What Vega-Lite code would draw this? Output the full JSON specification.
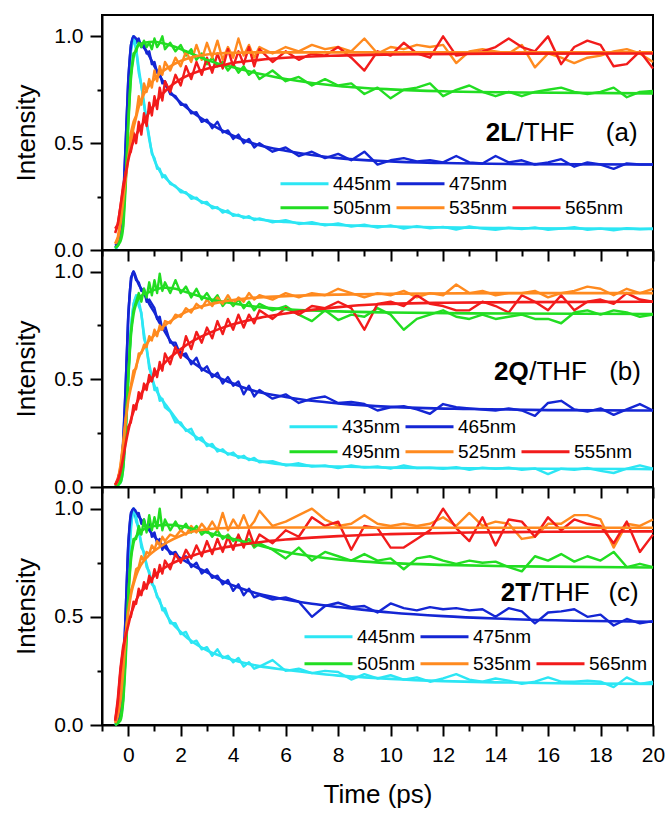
{
"$schema":"https://vega.github.io/schema/vega-lite/v6.json",
"padding":{"left":12,"top":14,"right":2,"bottom":5},
"spacing":0,
"bounds":"flush",
"datasets":{
"a":[
{"s":"445nm","t":-0.5,"v":0.01},{"s":"445nm","t":-0.4,"v":0.02},{"s":"445nm","t":-0.3,"v":0.06},{"s":"445nm","t":-0.2,"v":0.17},{"s":"445nm","t":-0.1,"v":0.42},{"s":"445nm","t":0,"v":0.72},{"s":"445nm","t":0.1,"v":0.93},{"s":"445nm","t":0.2,"v":0.99},{"s":"445nm","t":0.3,"v":0.94},{"s":"445nm","t":0.4,"v":0.83},{"s":"445nm","t":0.5,"v":0.77},{"s":"445nm","t":0.6,"v":0.68},{"s":"445nm","t":0.7,"v":0.6},{"s":"445nm","t":0.8,"v":0.53},{"s":"445nm","t":0.9,"v":0.45},{"s":"445nm","t":1,"v":0.43},{"s":"445nm","t":1.1,"v":0.38},{"s":"445nm","t":1.2,"v":0.38},{"s":"445nm","t":1.3,"v":0.34},{"s":"445nm","t":1.4,"v":0.35},{"s":"445nm","t":1.6,"v":0.31},{"s":"445nm","t":1.8,"v":0.3},{"s":"445nm","t":2,"v":0.27},{"s":"445nm","t":2.2,"v":0.27},{"s":"445nm","t":2.4,"v":0.24},{"s":"445nm","t":2.6,"v":0.245},{"s":"445nm","t":2.8,"v":0.22},{"s":"445nm","t":3,"v":0.225},{"s":"445nm","t":3.2,"v":0.195},{"s":"445nm","t":3.4,"v":0.2},{"s":"445nm","t":3.6,"v":0.175},{"s":"445nm","t":3.8,"v":0.185},{"s":"445nm","t":4,"v":0.16},{"s":"445nm","t":4.2,"v":0.165},{"s":"445nm","t":4.4,"v":0.15},{"s":"445nm","t":4.6,"v":0.158},{"s":"445nm","t":4.8,"v":0.14},{"s":"445nm","t":5,"v":0.148},{"s":"445nm","t":5.5,"v":0.13},{"s":"445nm","t":6,"v":0.14},{"s":"445nm","t":6.5,"v":0.122},{"s":"445nm","t":7,"v":0.13},{"s":"445nm","t":7.5,"v":0.115},{"s":"445nm","t":8,"v":0.124},{"s":"445nm","t":8.5,"v":0.11},{"s":"445nm","t":9,"v":0.118},{"s":"445nm","t":9.5,"v":0.105},{"s":"445nm","t":10,"v":0.115},{"s":"445nm","t":10.5,"v":0.1},{"s":"445nm","t":11,"v":0.112},{"s":"445nm","t":11.5,"v":0.102},{"s":"445nm","t":12,"v":0.108},{"s":"445nm","t":12.5,"v":0.096},{"s":"445nm","t":13,"v":0.11},{"s":"445nm","t":13.5,"v":0.1},{"s":"445nm","t":14,"v":0.095},{"s":"445nm","t":14.5,"v":0.104},{"s":"445nm","t":15,"v":0.098},{"s":"445nm","t":15.5,"v":0.106},{"s":"445nm","t":16,"v":0.094},{"s":"445nm","t":16.5,"v":0.1},{"s":"445nm","t":17,"v":0.107},{"s":"445nm","t":17.5,"v":0.095},{"s":"445nm","t":18,"v":0.1},{"s":"445nm","t":18.5,"v":0.092},{"s":"445nm","t":19,"v":0.102},{"s":"445nm","t":19.5,"v":0.097},{"s":"445nm","t":20,"v":0.1},
{"s":"475nm","t":-0.5,"v":0.02},{"s":"475nm","t":-0.4,"v":0.03},{"s":"475nm","t":-0.3,"v":0.08},{"s":"475nm","t":-0.2,"v":0.22},{"s":"475nm","t":-0.1,"v":0.5},{"s":"475nm","t":0,"v":0.8},{"s":"475nm","t":0.1,"v":0.96},{"s":"475nm","t":0.2,"v":1.0},{"s":"475nm","t":0.3,"v":0.97},{"s":"475nm","t":0.4,"v":0.99},{"s":"475nm","t":0.5,"v":0.95},{"s":"475nm","t":0.6,"v":0.96},{"s":"475nm","t":0.7,"v":0.92},{"s":"475nm","t":0.8,"v":0.93},{"s":"475nm","t":0.9,"v":0.87},{"s":"475nm","t":1,"v":0.88},{"s":"475nm","t":1.1,"v":0.83},{"s":"475nm","t":1.2,"v":0.83},{"s":"475nm","t":1.3,"v":0.78},{"s":"475nm","t":1.4,"v":0.79},{"s":"475nm","t":1.6,"v":0.73},{"s":"475nm","t":1.8,"v":0.72},{"s":"475nm","t":2,"v":0.68},{"s":"475nm","t":2.2,"v":0.68},{"s":"475nm","t":2.4,"v":0.64},{"s":"475nm","t":2.6,"v":0.645},{"s":"475nm","t":2.8,"v":0.6},{"s":"475nm","t":3,"v":0.61},{"s":"475nm","t":3.2,"v":0.57},{"s":"475nm","t":3.4,"v":0.6},{"s":"475nm","t":3.6,"v":0.55},{"s":"475nm","t":3.8,"v":0.56},{"s":"475nm","t":4,"v":0.52},{"s":"475nm","t":4.2,"v":0.54},{"s":"475nm","t":4.4,"v":0.5},{"s":"475nm","t":4.6,"v":0.52},{"s":"475nm","t":4.8,"v":0.48},{"s":"475nm","t":5,"v":0.5},{"s":"475nm","t":5.5,"v":0.46},{"s":"475nm","t":6,"v":0.48},{"s":"475nm","t":6.5,"v":0.44},{"s":"475nm","t":7,"v":0.46},{"s":"475nm","t":7.5,"v":0.43},{"s":"475nm","t":8,"v":0.45},{"s":"475nm","t":8.5,"v":0.42},{"s":"475nm","t":9,"v":0.46},{"s":"475nm","t":9.5,"v":0.4},{"s":"475nm","t":10,"v":0.42},{"s":"475nm","t":10.5,"v":0.43},{"s":"475nm","t":11,"v":0.415},{"s":"475nm","t":11.5,"v":0.42},{"s":"475nm","t":12,"v":0.41},{"s":"475nm","t":12.5,"v":0.44},{"s":"475nm","t":13,"v":0.41},{"s":"475nm","t":13.5,"v":0.405},{"s":"475nm","t":14,"v":0.44},{"s":"475nm","t":14.5,"v":0.41},{"s":"475nm","t":15,"v":0.42},{"s":"475nm","t":15.5,"v":0.4},{"s":"475nm","t":16,"v":0.41},{"s":"475nm","t":16.5,"v":0.425},{"s":"475nm","t":17,"v":0.39},{"s":"475nm","t":17.5,"v":0.41},{"s":"475nm","t":18,"v":0.4},{"s":"475nm","t":18.5,"v":0.38},{"s":"475nm","t":19,"v":0.405},{"s":"475nm","t":19.5,"v":0.4},{"s":"475nm","t":20,"v":0.4},
{"s":"505nm","t":-0.5,"v":0.01},{"s":"505nm","t":-0.4,"v":0.02},{"s":"505nm","t":-0.3,"v":0.05},{"s":"505nm","t":-0.2,"v":0.11},{"s":"505nm","t":-0.1,"v":0.32},{"s":"505nm","t":0,"v":0.6},{"s":"505nm","t":0.1,"v":0.82},{"s":"505nm","t":0.2,"v":0.92},{"s":"505nm","t":0.3,"v":0.93},{"s":"505nm","t":0.4,"v":0.97},{"s":"505nm","t":0.5,"v":0.95},{"s":"505nm","t":0.6,"v":0.98},{"s":"505nm","t":0.7,"v":0.95},{"s":"505nm","t":0.8,"v":0.97},{"s":"505nm","t":0.9,"v":0.94},{"s":"505nm","t":1,"v":0.99},{"s":"505nm","t":1.1,"v":0.95},{"s":"505nm","t":1.2,"v":0.97},{"s":"505nm","t":1.3,"v":1.0},{"s":"505nm","t":1.4,"v":0.94},{"s":"505nm","t":1.6,"v":0.97},{"s":"505nm","t":1.8,"v":0.93},{"s":"505nm","t":2,"v":0.96},{"s":"505nm","t":2.2,"v":0.91},{"s":"505nm","t":2.4,"v":0.94},{"s":"505nm","t":2.6,"v":0.89},{"s":"505nm","t":2.8,"v":0.92},{"s":"505nm","t":3,"v":0.87},{"s":"505nm","t":3.2,"v":0.9},{"s":"505nm","t":3.4,"v":0.86},{"s":"505nm","t":3.6,"v":0.88},{"s":"505nm","t":3.8,"v":0.84},{"s":"505nm","t":4,"v":0.87},{"s":"505nm","t":4.2,"v":0.83},{"s":"505nm","t":4.4,"v":0.86},{"s":"505nm","t":4.6,"v":0.82},{"s":"505nm","t":4.8,"v":0.84},{"s":"505nm","t":5,"v":0.8},{"s":"505nm","t":5.5,"v":0.84},{"s":"505nm","t":6,"v":0.79},{"s":"505nm","t":6.5,"v":0.81},{"s":"505nm","t":7,"v":0.77},{"s":"505nm","t":7.5,"v":0.8},{"s":"505nm","t":8,"v":0.77},{"s":"505nm","t":8.5,"v":0.78},{"s":"505nm","t":9,"v":0.73},{"s":"505nm","t":9.5,"v":0.76},{"s":"505nm","t":10,"v":0.71},{"s":"505nm","t":10.5,"v":0.75},{"s":"505nm","t":11,"v":0.76},{"s":"505nm","t":11.5,"v":0.78},{"s":"505nm","t":12,"v":0.72},{"s":"505nm","t":12.5,"v":0.75},{"s":"505nm","t":13,"v":0.77},{"s":"505nm","t":13.5,"v":0.74},{"s":"505nm","t":14,"v":0.72},{"s":"505nm","t":14.5,"v":0.74},{"s":"505nm","t":15,"v":0.72},{"s":"505nm","t":15.5,"v":0.74},{"s":"505nm","t":16,"v":0.75},{"s":"505nm","t":16.5,"v":0.76},{"s":"505nm","t":17,"v":0.74},{"s":"505nm","t":17.5,"v":0.73},{"s":"505nm","t":18,"v":0.74},{"s":"505nm","t":18.5,"v":0.76},{"s":"505nm","t":19,"v":0.715},{"s":"505nm","t":19.5,"v":0.74},{"s":"505nm","t":20,"v":0.745},
{"s":"535nm","t":-0.5,"v":0.03},{"s":"535nm","t":-0.4,"v":0.06},{"s":"535nm","t":-0.3,"v":0.13},{"s":"535nm","t":-0.2,"v":0.24},{"s":"535nm","t":-0.1,"v":0.35},{"s":"535nm","t":0,"v":0.45},{"s":"535nm","t":0.1,"v":0.55},{"s":"535nm","t":0.2,"v":0.6},{"s":"535nm","t":0.3,"v":0.63},{"s":"535nm","t":0.4,"v":0.72},{"s":"535nm","t":0.5,"v":0.68},{"s":"535nm","t":0.6,"v":0.78},{"s":"535nm","t":0.7,"v":0.74},{"s":"535nm","t":0.8,"v":0.8},{"s":"535nm","t":0.9,"v":0.76},{"s":"535nm","t":1,"v":0.84},{"s":"535nm","t":1.1,"v":0.79},{"s":"535nm","t":1.2,"v":0.86},{"s":"535nm","t":1.3,"v":0.82},{"s":"535nm","t":1.4,"v":0.88},{"s":"535nm","t":1.6,"v":0.84},{"s":"535nm","t":1.8,"v":0.9},{"s":"535nm","t":2,"v":0.86},{"s":"535nm","t":2.2,"v":0.93},{"s":"535nm","t":2.4,"v":0.88},{"s":"535nm","t":2.6,"v":0.96},{"s":"535nm","t":2.8,"v":0.89},{"s":"535nm","t":3,"v":0.97},{"s":"535nm","t":3.2,"v":0.9},{"s":"535nm","t":3.4,"v":0.98},{"s":"535nm","t":3.6,"v":0.89},{"s":"535nm","t":3.8,"v":0.95},{"s":"535nm","t":4,"v":0.9},{"s":"535nm","t":4.2,"v":0.99},{"s":"535nm","t":4.4,"v":0.91},{"s":"535nm","t":4.6,"v":0.96},{"s":"535nm","t":4.8,"v":0.9},{"s":"535nm","t":5,"v":0.95},{"s":"535nm","t":5.5,"v":0.92},{"s":"535nm","t":6,"v":0.95},{"s":"535nm","t":6.5,"v":0.93},{"s":"535nm","t":7,"v":0.96},{"s":"535nm","t":7.5,"v":0.94},{"s":"535nm","t":8,"v":0.95},{"s":"535nm","t":8.5,"v":0.93},{"s":"535nm","t":9,"v":0.99},{"s":"535nm","t":9.5,"v":0.92},{"s":"535nm","t":10,"v":0.95},{"s":"535nm","t":10.5,"v":0.94},{"s":"535nm","t":11,"v":0.96},{"s":"535nm","t":11.5,"v":0.95},{"s":"535nm","t":12,"v":0.96},{"s":"535nm","t":12.5,"v":0.875},{"s":"535nm","t":13,"v":0.93},{"s":"535nm","t":13.5,"v":0.94},{"s":"535nm","t":14,"v":0.93},{"s":"535nm","t":14.5,"v":0.92},{"s":"535nm","t":15,"v":0.96},{"s":"535nm","t":15.5,"v":0.855},{"s":"535nm","t":16,"v":0.92},{"s":"535nm","t":16.5,"v":0.9},{"s":"535nm","t":17,"v":0.875},{"s":"535nm","t":17.5,"v":0.9},{"s":"535nm","t":18,"v":0.91},{"s":"535nm","t":18.5,"v":0.93},{"s":"535nm","t":19,"v":0.94},{"s":"535nm","t":19.5,"v":0.92},{"s":"535nm","t":20,"v":0.88},
{"s":"565nm","t":-0.5,"v":0.1},{"s":"565nm","t":-0.4,"v":0.12},{"s":"565nm","t":-0.3,"v":0.2},{"s":"565nm","t":-0.2,"v":0.3},{"s":"565nm","t":-0.1,"v":0.36},{"s":"565nm","t":0,"v":0.44},{"s":"565nm","t":0.1,"v":0.46},{"s":"565nm","t":0.2,"v":0.55},{"s":"565nm","t":0.3,"v":0.5},{"s":"565nm","t":0.4,"v":0.6},{"s":"565nm","t":0.5,"v":0.54},{"s":"565nm","t":0.6,"v":0.64},{"s":"565nm","t":0.7,"v":0.58},{"s":"565nm","t":0.8,"v":0.69},{"s":"565nm","t":0.9,"v":0.63},{"s":"565nm","t":1,"v":0.72},{"s":"565nm","t":1.1,"v":0.66},{"s":"565nm","t":1.2,"v":0.76},{"s":"565nm","t":1.3,"v":0.7},{"s":"565nm","t":1.4,"v":0.79},{"s":"565nm","t":1.6,"v":0.74},{"s":"565nm","t":1.8,"v":0.82},{"s":"565nm","t":2,"v":0.77},{"s":"565nm","t":2.2,"v":0.86},{"s":"565nm","t":2.4,"v":0.8},{"s":"565nm","t":2.6,"v":0.88},{"s":"565nm","t":2.8,"v":0.82},{"s":"565nm","t":3,"v":0.9},{"s":"565nm","t":3.2,"v":0.83},{"s":"565nm","t":3.4,"v":0.92},{"s":"565nm","t":3.6,"v":0.85},{"s":"565nm","t":3.8,"v":0.94},{"s":"565nm","t":4,"v":0.86},{"s":"565nm","t":4.2,"v":0.93},{"s":"565nm","t":4.4,"v":0.87},{"s":"565nm","t":4.6,"v":0.95},{"s":"565nm","t":4.8,"v":0.86},{"s":"565nm","t":5,"v":0.94},{"s":"565nm","t":5.5,"v":0.88},{"s":"565nm","t":6,"v":0.93},{"s":"565nm","t":6.5,"v":0.89},{"s":"565nm","t":7,"v":0.92},{"s":"565nm","t":7.5,"v":0.91},{"s":"565nm","t":8,"v":0.95},{"s":"565nm","t":8.5,"v":0.9},{"s":"565nm","t":9,"v":0.84},{"s":"565nm","t":9.5,"v":0.93},{"s":"565nm","t":10,"v":0.91},{"s":"565nm","t":10.5,"v":0.97},{"s":"565nm","t":11,"v":0.92},{"s":"565nm","t":11.5,"v":0.9},{"s":"565nm","t":12,"v":1.0},{"s":"565nm","t":12.5,"v":0.91},{"s":"565nm","t":13,"v":0.92},{"s":"565nm","t":13.5,"v":0.93},{"s":"565nm","t":14,"v":0.95},{"s":"565nm","t":14.5,"v":0.99},{"s":"565nm","t":15,"v":0.95},{"s":"565nm","t":15.5,"v":0.93},{"s":"565nm","t":16,"v":1.0},{"s":"565nm","t":16.5,"v":0.87},{"s":"565nm","t":17,"v":0.95},{"s":"565nm","t":17.5,"v":0.98},{"s":"565nm","t":18,"v":0.96},{"s":"565nm","t":18.5,"v":0.86},{"s":"565nm","t":19,"v":0.87},{"s":"565nm","t":19.5,"v":0.93},{"s":"565nm","t":20,"v":0.85}
],
"af":[
{"s":"445nm","t":-0.5,"v":0},{"s":"445nm","t":-0.4,"v":0.02},{"s":"445nm","t":-0.3,"v":0.06},{"s":"445nm","t":-0.2,"v":0.16},{"s":"445nm","t":-0.1,"v":0.41},{"s":"445nm","t":0,"v":0.71},{"s":"445nm","t":0.1,"v":0.93},{"s":"445nm","t":0.2,"v":1.0},{"s":"445nm","t":0.3,"v":0.94},{"s":"445nm","t":0.4,"v":0.85},{"s":"445nm","t":0.5,"v":0.77},{"s":"445nm","t":0.6,"v":0.69},{"s":"445nm","t":0.7,"v":0.6},{"s":"445nm","t":0.8,"v":0.52},{"s":"445nm","t":0.9,"v":0.46},{"s":"445nm","t":1,"v":0.42},{"s":"445nm","t":1.2,"v":0.37},{"s":"445nm","t":1.4,"v":0.34},{"s":"445nm","t":1.7,"v":0.305},{"s":"445nm","t":2,"v":0.28},{"s":"445nm","t":2.5,"v":0.245},{"s":"445nm","t":3,"v":0.215},{"s":"445nm","t":3.5,"v":0.19},{"s":"445nm","t":4,"v":0.167},{"s":"445nm","t":5,"v":0.143},{"s":"445nm","t":6,"v":0.131},{"s":"445nm","t":7,"v":0.123},{"s":"445nm","t":8,"v":0.117},{"s":"445nm","t":10,"v":0.11},{"s":"445nm","t":12,"v":0.106},{"s":"445nm","t":15,"v":0.102},{"s":"445nm","t":20,"v":0.099},
{"s":"475nm","t":-0.5,"v":0.01},{"s":"475nm","t":-0.3,"v":0.06},{"s":"475nm","t":-0.2,"v":0.2},{"s":"475nm","t":-0.1,"v":0.48},{"s":"475nm","t":0,"v":0.78},{"s":"475nm","t":0.1,"v":0.95},{"s":"475nm","t":0.2,"v":1.0},{"s":"475nm","t":0.3,"v":0.99},{"s":"475nm","t":0.5,"v":0.96},{"s":"475nm","t":0.7,"v":0.93},{"s":"475nm","t":1,"v":0.86},{"s":"475nm","t":1.2,"v":0.815},{"s":"475nm","t":1.6,"v":0.74},{"s":"475nm","t":2,"v":0.69},{"s":"475nm","t":2.5,"v":0.64},{"s":"475nm","t":3,"v":0.6},{"s":"475nm","t":3.5,"v":0.565},{"s":"475nm","t":4,"v":0.535},{"s":"475nm","t":5,"v":0.49},{"s":"475nm","t":6,"v":0.465},{"s":"475nm","t":7,"v":0.445},{"s":"475nm","t":8,"v":0.43},{"s":"475nm","t":10,"v":0.415},{"s":"475nm","t":12,"v":0.407},{"s":"475nm","t":15,"v":0.402},{"s":"475nm","t":20,"v":0.4},
{"s":"505nm","t":-0.5,"v":0.01},{"s":"505nm","t":-0.3,"v":0.04},{"s":"505nm","t":-0.2,"v":0.1},{"s":"505nm","t":-0.1,"v":0.3},{"s":"505nm","t":0,"v":0.58},{"s":"505nm","t":0.1,"v":0.8},{"s":"505nm","t":0.2,"v":0.9},{"s":"505nm","t":0.3,"v":0.94},{"s":"505nm","t":0.4,"v":0.96},{"s":"505nm","t":0.6,"v":0.97},{"s":"505nm","t":1,"v":0.975},{"s":"505nm","t":1.4,"v":0.965},{"s":"505nm","t":1.8,"v":0.95},{"s":"505nm","t":2.2,"v":0.93},{"s":"505nm","t":2.6,"v":0.91},{"s":"505nm","t":3,"v":0.89},{"s":"505nm","t":3.5,"v":0.87},{"s":"505nm","t":4,"v":0.855},{"s":"505nm","t":5,"v":0.825},{"s":"505nm","t":6,"v":0.8},{"s":"505nm","t":7,"v":0.782},{"s":"505nm","t":8,"v":0.768},{"s":"505nm","t":10,"v":0.752},{"s":"505nm","t":12,"v":0.743},{"s":"505nm","t":15,"v":0.737},{"s":"505nm","t":20,"v":0.733},
{"s":"535nm","t":-0.5,"v":0.03},{"s":"535nm","t":-0.4,"v":0.05},{"s":"535nm","t":-0.3,"v":0.12},{"s":"535nm","t":-0.2,"v":0.22},{"s":"535nm","t":-0.1,"v":0.33},{"s":"535nm","t":0,"v":0.43},{"s":"535nm","t":0.1,"v":0.51},{"s":"535nm","t":0.2,"v":0.57},{"s":"535nm","t":0.3,"v":0.62},{"s":"535nm","t":0.4,"v":0.67},{"s":"535nm","t":0.5,"v":0.7},{"s":"535nm","t":0.6,"v":0.73},{"s":"535nm","t":0.8,"v":0.77},{"s":"535nm","t":1,"v":0.8},{"s":"535nm","t":1.3,"v":0.835},{"s":"535nm","t":1.6,"v":0.86},{"s":"535nm","t":2,"v":0.885},{"s":"535nm","t":2.5,"v":0.905},{"s":"535nm","t":3,"v":0.915},{"s":"535nm","t":4,"v":0.923},{"s":"535nm","t":5,"v":0.925},{"s":"535nm","t":10,"v":0.925},{"s":"535nm","t":20,"v":0.925},
{"s":"565nm","t":-0.5,"v":0.08},{"s":"565nm","t":-0.4,"v":0.12},{"s":"565nm","t":-0.3,"v":0.2},{"s":"565nm","t":-0.2,"v":0.28},{"s":"565nm","t":-0.1,"v":0.35},{"s":"565nm","t":0,"v":0.42},{"s":"565nm","t":0.1,"v":0.47},{"s":"565nm","t":0.2,"v":0.51},{"s":"565nm","t":0.4,"v":0.56},{"s":"565nm","t":0.6,"v":0.6},{"s":"565nm","t":0.8,"v":0.645},{"s":"565nm","t":1,"v":0.68},{"s":"565nm","t":1.2,"v":0.715},{"s":"565nm","t":1.5,"v":0.755},{"s":"565nm","t":2,"v":0.8},{"s":"565nm","t":2.5,"v":0.828},{"s":"565nm","t":3,"v":0.848},{"s":"565nm","t":3.5,"v":0.862},{"s":"565nm","t":4,"v":0.875},{"s":"565nm","t":5,"v":0.89},{"s":"565nm","t":6,"v":0.9},{"s":"565nm","t":8,"v":0.91},{"s":"565nm","t":10,"v":0.915},{"s":"565nm","t":14,"v":0.919},{"s":"565nm","t":20,"v":0.92}
],
"b":[
{"s":"435nm","t":-0.5,"v":0},{"s":"435nm","t":-0.4,"v":0.01},{"s":"435nm","t":-0.3,"v":0.02},{"s":"435nm","t":-0.2,"v":0.09},{"s":"435nm","t":-0.1,"v":0.27},{"s":"435nm","t":0,"v":0.52},{"s":"435nm","t":0.1,"v":0.74},{"s":"435nm","t":0.2,"v":0.85},{"s":"435nm","t":0.3,"v":0.89},{"s":"435nm","t":0.4,"v":0.84},{"s":"435nm","t":0.5,"v":0.81},{"s":"435nm","t":0.6,"v":0.69},{"s":"435nm","t":0.7,"v":0.65},{"s":"435nm","t":0.8,"v":0.55},{"s":"435nm","t":0.9,"v":0.52},{"s":"435nm","t":1,"v":0.45},{"s":"435nm","t":1.1,"v":0.46},{"s":"435nm","t":1.2,"v":0.4},{"s":"435nm","t":1.3,"v":0.41},{"s":"435nm","t":1.4,"v":0.37},{"s":"435nm","t":1.6,"v":0.35},{"s":"435nm","t":1.8,"v":0.3},{"s":"435nm","t":2,"v":0.3},{"s":"435nm","t":2.2,"v":0.26},{"s":"435nm","t":2.4,"v":0.27},{"s":"435nm","t":2.6,"v":0.22},{"s":"435nm","t":2.8,"v":0.23},{"s":"435nm","t":3,"v":0.19},{"s":"435nm","t":3.2,"v":0.2},{"s":"435nm","t":3.4,"v":0.165},{"s":"435nm","t":3.6,"v":0.175},{"s":"435nm","t":3.8,"v":0.15},{"s":"435nm","t":4,"v":0.16},{"s":"435nm","t":4.2,"v":0.135},{"s":"435nm","t":4.4,"v":0.145},{"s":"435nm","t":4.6,"v":0.125},{"s":"435nm","t":4.8,"v":0.135},{"s":"435nm","t":5,"v":0.115},{"s":"435nm","t":5.5,"v":0.12},{"s":"435nm","t":6,"v":0.1},{"s":"435nm","t":6.5,"v":0.11},{"s":"435nm","t":7,"v":0.095},{"s":"435nm","t":7.5,"v":0.1},{"s":"435nm","t":8,"v":0.088},{"s":"435nm","t":8.5,"v":0.1},{"s":"435nm","t":9,"v":0.09},{"s":"435nm","t":9.5,"v":0.095},{"s":"435nm","t":10,"v":0.085},{"s":"435nm","t":10.5,"v":0.1},{"s":"435nm","t":11,"v":0.088},{"s":"435nm","t":11.5,"v":0.09},{"s":"435nm","t":12,"v":0.085},{"s":"435nm","t":12.5,"v":0.092},{"s":"435nm","t":13,"v":0.08},{"s":"435nm","t":13.5,"v":0.09},{"s":"435nm","t":14,"v":0.085},{"s":"435nm","t":14.5,"v":0.09},{"s":"435nm","t":15,"v":0.08},{"s":"435nm","t":15.5,"v":0.086},{"s":"435nm","t":16,"v":0.06},{"s":"435nm","t":16.5,"v":0.085},{"s":"435nm","t":17,"v":0.08},{"s":"435nm","t":17.5,"v":0.088},{"s":"435nm","t":18,"v":0.075},{"s":"435nm","t":18.5,"v":0.065},{"s":"435nm","t":19,"v":0.085},{"s":"435nm","t":19.5,"v":0.1},{"s":"435nm","t":20,"v":0.085},
{"s":"465nm","t":-0.5,"v":0},{"s":"465nm","t":-0.4,"v":0.01},{"s":"465nm","t":-0.3,"v":0.06},{"s":"465nm","t":-0.2,"v":0.2},{"s":"465nm","t":-0.1,"v":0.47},{"s":"465nm","t":0,"v":0.8},{"s":"465nm","t":0.1,"v":0.97},{"s":"465nm","t":0.2,"v":1.0},{"s":"465nm","t":0.3,"v":0.96},{"s":"465nm","t":0.4,"v":0.95},{"s":"465nm","t":0.5,"v":0.91},{"s":"465nm","t":0.6,"v":0.92},{"s":"465nm","t":0.7,"v":0.86},{"s":"465nm","t":0.8,"v":0.87},{"s":"465nm","t":0.9,"v":0.85},{"s":"465nm","t":1,"v":0.83},{"s":"465nm","t":1.1,"v":0.78},{"s":"465nm","t":1.2,"v":0.79},{"s":"465nm","t":1.3,"v":0.73},{"s":"465nm","t":1.4,"v":0.75},{"s":"465nm","t":1.6,"v":0.67},{"s":"465nm","t":1.8,"v":0.67},{"s":"465nm","t":2,"v":0.61},{"s":"465nm","t":2.2,"v":0.62},{"s":"465nm","t":2.4,"v":0.57},{"s":"465nm","t":2.6,"v":0.6},{"s":"465nm","t":2.8,"v":0.54},{"s":"465nm","t":3,"v":0.56},{"s":"465nm","t":3.2,"v":0.51},{"s":"465nm","t":3.4,"v":0.53},{"s":"465nm","t":3.6,"v":0.48},{"s":"465nm","t":3.8,"v":0.51},{"s":"465nm","t":4,"v":0.47},{"s":"465nm","t":4.2,"v":0.49},{"s":"465nm","t":4.4,"v":0.43},{"s":"465nm","t":4.6,"v":0.47},{"s":"465nm","t":4.8,"v":0.42},{"s":"465nm","t":5,"v":0.45},{"s":"465nm","t":5.5,"v":0.41},{"s":"465nm","t":6,"v":0.43},{"s":"465nm","t":6.5,"v":0.39},{"s":"465nm","t":7,"v":0.41},{"s":"465nm","t":7.5,"v":0.42},{"s":"465nm","t":8,"v":0.39},{"s":"465nm","t":8.5,"v":0.395},{"s":"465nm","t":9,"v":0.385},{"s":"465nm","t":9.5,"v":0.355},{"s":"465nm","t":10,"v":0.37},{"s":"465nm","t":10.5,"v":0.375},{"s":"465nm","t":11,"v":0.36},{"s":"465nm","t":11.5,"v":0.34},{"s":"465nm","t":12,"v":0.385},{"s":"465nm","t":12.5,"v":0.37},{"s":"465nm","t":13,"v":0.365},{"s":"465nm","t":13.5,"v":0.36},{"s":"465nm","t":14,"v":0.355},{"s":"465nm","t":14.5,"v":0.365},{"s":"465nm","t":15,"v":0.355},{"s":"465nm","t":15.5,"v":0.33},{"s":"465nm","t":16,"v":0.39},{"s":"465nm","t":16.5,"v":0.4},{"s":"465nm","t":17,"v":0.36},{"s":"465nm","t":17.5,"v":0.35},{"s":"465nm","t":18,"v":0.365},{"s":"465nm","t":18.5,"v":0.335},{"s":"465nm","t":19,"v":0.36},{"s":"465nm","t":19.5,"v":0.385},{"s":"465nm","t":20,"v":0.355},
{"s":"495nm","t":-0.5,"v":0},{"s":"495nm","t":-0.4,"v":0.01},{"s":"495nm","t":-0.3,"v":0.03},{"s":"495nm","t":-0.2,"v":0.09},{"s":"495nm","t":-0.1,"v":0.27},{"s":"495nm","t":0,"v":0.52},{"s":"495nm","t":0.1,"v":0.72},{"s":"495nm","t":0.2,"v":0.82},{"s":"495nm","t":0.3,"v":0.86},{"s":"495nm","t":0.4,"v":0.9},{"s":"495nm","t":0.5,"v":0.86},{"s":"495nm","t":0.6,"v":0.92},{"s":"495nm","t":0.7,"v":0.88},{"s":"495nm","t":0.8,"v":0.95},{"s":"495nm","t":0.9,"v":0.89},{"s":"495nm","t":1,"v":0.96},{"s":"495nm","t":1.1,"v":0.9},{"s":"495nm","t":1.2,"v":0.99},{"s":"495nm","t":1.3,"v":0.91},{"s":"495nm","t":1.4,"v":0.95},{"s":"495nm","t":1.6,"v":0.9},{"s":"495nm","t":1.8,"v":0.96},{"s":"495nm","t":2,"v":0.9},{"s":"495nm","t":2.2,"v":0.93},{"s":"495nm","t":2.4,"v":0.88},{"s":"495nm","t":2.6,"v":0.92},{"s":"495nm","t":2.8,"v":0.87},{"s":"495nm","t":3,"v":0.9},{"s":"495nm","t":3.2,"v":0.86},{"s":"495nm","t":3.4,"v":0.89},{"s":"495nm","t":3.6,"v":0.84},{"s":"495nm","t":3.8,"v":0.87},{"s":"495nm","t":4,"v":0.84},{"s":"495nm","t":4.2,"v":0.87},{"s":"495nm","t":4.4,"v":0.83},{"s":"495nm","t":4.6,"v":0.86},{"s":"495nm","t":4.8,"v":0.82},{"s":"495nm","t":5,"v":0.85},{"s":"495nm","t":5.5,"v":0.82},{"s":"495nm","t":6,"v":0.84},{"s":"495nm","t":6.5,"v":0.8},{"s":"495nm","t":7,"v":0.77},{"s":"495nm","t":7.5,"v":0.82},{"s":"495nm","t":8,"v":0.775},{"s":"495nm","t":8.5,"v":0.8},{"s":"495nm","t":9,"v":0.79},{"s":"495nm","t":9.5,"v":0.83},{"s":"495nm","t":10,"v":0.8},{"s":"495nm","t":10.5,"v":0.73},{"s":"495nm","t":11,"v":0.78},{"s":"495nm","t":11.5,"v":0.8},{"s":"495nm","t":12,"v":0.82},{"s":"495nm","t":12.5,"v":0.79},{"s":"495nm","t":13,"v":0.78},{"s":"495nm","t":13.5,"v":0.8},{"s":"495nm","t":14,"v":0.78},{"s":"495nm","t":14.5,"v":0.79},{"s":"495nm","t":15,"v":0.8},{"s":"495nm","t":15.5,"v":0.78},{"s":"495nm","t":16,"v":0.78},{"s":"495nm","t":16.5,"v":0.76},{"s":"495nm","t":17,"v":0.81},{"s":"495nm","t":17.5,"v":0.82},{"s":"495nm","t":18,"v":0.8},{"s":"495nm","t":18.5,"v":0.82},{"s":"495nm","t":19,"v":0.81},{"s":"495nm","t":19.5,"v":0.79},{"s":"495nm","t":20,"v":0.8},
{"s":"525nm","t":-0.5,"v":0.01},{"s":"525nm","t":-0.4,"v":0.03},{"s":"525nm","t":-0.3,"v":0.1},{"s":"525nm","t":-0.2,"v":0.2},{"s":"525nm","t":-0.1,"v":0.32},{"s":"525nm","t":0,"v":0.42},{"s":"525nm","t":0.1,"v":0.47},{"s":"525nm","t":0.2,"v":0.54},{"s":"525nm","t":0.3,"v":0.55},{"s":"525nm","t":0.4,"v":0.62},{"s":"525nm","t":0.5,"v":0.62},{"s":"525nm","t":0.6,"v":0.66},{"s":"525nm","t":0.7,"v":0.65},{"s":"525nm","t":0.8,"v":0.7},{"s":"525nm","t":0.9,"v":0.68},{"s":"525nm","t":1,"v":0.73},{"s":"525nm","t":1.1,"v":0.7},{"s":"525nm","t":1.2,"v":0.75},{"s":"525nm","t":1.3,"v":0.73},{"s":"525nm","t":1.4,"v":0.77},{"s":"525nm","t":1.6,"v":0.76},{"s":"525nm","t":1.8,"v":0.8},{"s":"525nm","t":2,"v":0.79},{"s":"525nm","t":2.2,"v":0.83},{"s":"525nm","t":2.4,"v":0.81},{"s":"525nm","t":2.6,"v":0.85},{"s":"525nm","t":2.8,"v":0.83},{"s":"525nm","t":3,"v":0.87},{"s":"525nm","t":3.2,"v":0.84},{"s":"525nm","t":3.4,"v":0.88},{"s":"525nm","t":3.6,"v":0.85},{"s":"525nm","t":3.8,"v":0.89},{"s":"525nm","t":4,"v":0.85},{"s":"525nm","t":4.2,"v":0.88},{"s":"525nm","t":4.4,"v":0.86},{"s":"525nm","t":4.6,"v":0.9},{"s":"525nm","t":4.8,"v":0.87},{"s":"525nm","t":5,"v":0.89},{"s":"525nm","t":5.5,"v":0.87},{"s":"525nm","t":6,"v":0.9},{"s":"525nm","t":6.5,"v":0.88},{"s":"525nm","t":7,"v":0.9},{"s":"525nm","t":7.5,"v":0.89},{"s":"525nm","t":8,"v":0.92},{"s":"525nm","t":8.5,"v":0.9},{"s":"525nm","t":9,"v":0.88},{"s":"525nm","t":9.5,"v":0.9},{"s":"525nm","t":10,"v":0.89},{"s":"525nm","t":10.5,"v":0.91},{"s":"525nm","t":11,"v":0.88},{"s":"525nm","t":11.5,"v":0.9},{"s":"525nm","t":12,"v":0.89},{"s":"525nm","t":12.5,"v":0.94},{"s":"525nm","t":13,"v":0.9},{"s":"525nm","t":13.5,"v":0.91},{"s":"525nm","t":14,"v":0.89},{"s":"525nm","t":14.5,"v":0.9},{"s":"525nm","t":15,"v":0.9},{"s":"525nm","t":15.5,"v":0.91},{"s":"525nm","t":16,"v":0.88},{"s":"525nm","t":16.5,"v":0.9},{"s":"525nm","t":17,"v":0.91},{"s":"525nm","t":17.5,"v":0.93},{"s":"525nm","t":18,"v":0.92},{"s":"525nm","t":18.5,"v":0.89},{"s":"525nm","t":19,"v":0.92},{"s":"525nm","t":19.5,"v":0.9},{"s":"525nm","t":20,"v":0.92},
{"s":"555nm","t":-0.5,"v":0.01},{"s":"555nm","t":-0.4,"v":0.04},{"s":"555nm","t":-0.3,"v":0.08},{"s":"555nm","t":-0.2,"v":0.14},{"s":"555nm","t":-0.1,"v":0.22},{"s":"555nm","t":0,"v":0.28},{"s":"555nm","t":0.1,"v":0.3},{"s":"555nm","t":0.2,"v":0.38},{"s":"555nm","t":0.3,"v":0.36},{"s":"555nm","t":0.4,"v":0.44},{"s":"555nm","t":0.5,"v":0.41},{"s":"555nm","t":0.6,"v":0.48},{"s":"555nm","t":0.7,"v":0.45},{"s":"555nm","t":0.8,"v":0.52},{"s":"555nm","t":0.9,"v":0.49},{"s":"555nm","t":1,"v":0.55},{"s":"555nm","t":1.1,"v":0.51},{"s":"555nm","t":1.2,"v":0.58},{"s":"555nm","t":1.3,"v":0.54},{"s":"555nm","t":1.4,"v":0.62},{"s":"555nm","t":1.6,"v":0.57},{"s":"555nm","t":1.8,"v":0.65},{"s":"555nm","t":2,"v":0.6},{"s":"555nm","t":2.2,"v":0.7},{"s":"555nm","t":2.4,"v":0.64},{"s":"555nm","t":2.6,"v":0.72},{"s":"555nm","t":2.8,"v":0.67},{"s":"555nm","t":3,"v":0.74},{"s":"555nm","t":3.2,"v":0.69},{"s":"555nm","t":3.4,"v":0.77},{"s":"555nm","t":3.6,"v":0.71},{"s":"555nm","t":3.8,"v":0.78},{"s":"555nm","t":4,"v":0.73},{"s":"555nm","t":4.2,"v":0.8},{"s":"555nm","t":4.4,"v":0.74},{"s":"555nm","t":4.6,"v":0.8},{"s":"555nm","t":4.8,"v":0.76},{"s":"555nm","t":5,"v":0.82},{"s":"555nm","t":5.5,"v":0.78},{"s":"555nm","t":6,"v":0.83},{"s":"555nm","t":6.5,"v":0.8},{"s":"555nm","t":7,"v":0.84},{"s":"555nm","t":7.5,"v":0.83},{"s":"555nm","t":8,"v":0.86},{"s":"555nm","t":8.5,"v":0.83},{"s":"555nm","t":9,"v":0.73},{"s":"555nm","t":9.5,"v":0.85},{"s":"555nm","t":10,"v":0.86},{"s":"555nm","t":10.5,"v":0.84},{"s":"555nm","t":11,"v":0.89},{"s":"555nm","t":11.5,"v":0.85},{"s":"555nm","t":12,"v":0.84},{"s":"555nm","t":12.5,"v":0.82},{"s":"555nm","t":13,"v":0.82},{"s":"555nm","t":13.5,"v":0.86},{"s":"555nm","t":14,"v":0.84},{"s":"555nm","t":14.5,"v":0.81},{"s":"555nm","t":15,"v":0.89},{"s":"555nm","t":15.5,"v":0.86},{"s":"555nm","t":16,"v":0.82},{"s":"555nm","t":16.5,"v":0.89},{"s":"555nm","t":17,"v":0.82},{"s":"555nm","t":17.5,"v":0.86},{"s":"555nm","t":18,"v":0.87},{"s":"555nm","t":18.5,"v":0.85},{"s":"555nm","t":19,"v":0.9},{"s":"555nm","t":19.5,"v":0.87},{"s":"555nm","t":20,"v":0.86}
],
"bf":[
{"s":"435nm","t":-0.5,"v":0},{"s":"435nm","t":-0.3,"v":0.02},{"s":"435nm","t":-0.2,"v":0.08},{"s":"435nm","t":-0.1,"v":0.25},{"s":"435nm","t":0,"v":0.5},{"s":"435nm","t":0.1,"v":0.72},{"s":"435nm","t":0.2,"v":0.84},{"s":"435nm","t":0.3,"v":0.88},{"s":"435nm","t":0.4,"v":0.86},{"s":"435nm","t":0.5,"v":0.8},{"s":"435nm","t":0.6,"v":0.71},{"s":"435nm","t":0.7,"v":0.64},{"s":"435nm","t":0.8,"v":0.57},{"s":"435nm","t":0.9,"v":0.51},{"s":"435nm","t":1,"v":0.47},{"s":"435nm","t":1.2,"v":0.42},{"s":"435nm","t":1.5,"v":0.37},{"s":"435nm","t":2,"v":0.29},{"s":"435nm","t":2.5,"v":0.24},{"s":"435nm","t":3,"v":0.2},{"s":"435nm","t":3.5,"v":0.17},{"s":"435nm","t":4,"v":0.148},{"s":"435nm","t":4.5,"v":0.133},{"s":"435nm","t":5,"v":0.12},{"s":"435nm","t":6,"v":0.104},{"s":"435nm","t":8,"v":0.095},{"s":"435nm","t":10,"v":0.09},{"s":"435nm","t":13,"v":0.087},{"s":"435nm","t":16,"v":0.085},{"s":"435nm","t":20,"v":0.083},
{"s":"465nm","t":-0.5,"v":0},{"s":"465nm","t":-0.4,"v":0.01},{"s":"465nm","t":-0.3,"v":0.05},{"s":"465nm","t":-0.2,"v":0.18},{"s":"465nm","t":-0.1,"v":0.45},{"s":"465nm","t":0,"v":0.78},{"s":"465nm","t":0.1,"v":0.95},{"s":"465nm","t":0.2,"v":1.0},{"s":"465nm","t":0.3,"v":0.97},{"s":"465nm","t":0.4,"v":0.94},{"s":"465nm","t":0.6,"v":0.9},{"s":"465nm","t":0.8,"v":0.85},{"s":"465nm","t":1,"v":0.81},{"s":"465nm","t":1.2,"v":0.76},{"s":"465nm","t":1.4,"v":0.72},{"s":"465nm","t":1.6,"v":0.68},{"s":"465nm","t":2,"v":0.625},{"s":"465nm","t":2.5,"v":0.575},{"s":"465nm","t":3,"v":0.535},{"s":"465nm","t":3.5,"v":0.505},{"s":"465nm","t":4,"v":0.48},{"s":"465nm","t":4.5,"v":0.457},{"s":"465nm","t":5,"v":0.44},{"s":"465nm","t":6,"v":0.418},{"s":"465nm","t":7,"v":0.4},{"s":"465nm","t":8,"v":0.388},{"s":"465nm","t":10,"v":0.372},{"s":"465nm","t":13,"v":0.362},{"s":"465nm","t":16,"v":0.357},{"s":"465nm","t":20,"v":0.355},
{"s":"495nm","t":-0.5,"v":0},{"s":"495nm","t":-0.3,"v":0.02},{"s":"495nm","t":-0.2,"v":0.08},{"s":"495nm","t":-0.1,"v":0.25},{"s":"495nm","t":0,"v":0.5},{"s":"495nm","t":0.1,"v":0.7},{"s":"495nm","t":0.2,"v":0.8},{"s":"495nm","t":0.3,"v":0.85},{"s":"495nm","t":0.4,"v":0.875},{"s":"495nm","t":0.6,"v":0.895},{"s":"495nm","t":0.8,"v":0.905},{"s":"495nm","t":1,"v":0.915},{"s":"495nm","t":1.4,"v":0.925},{"s":"495nm","t":1.8,"v":0.92},{"s":"495nm","t":2.2,"v":0.905},{"s":"495nm","t":2.6,"v":0.89},{"s":"495nm","t":3,"v":0.875},{"s":"495nm","t":3.5,"v":0.862},{"s":"495nm","t":4,"v":0.852},{"s":"495nm","t":5,"v":0.835},{"s":"495nm","t":6,"v":0.825},{"s":"495nm","t":8,"v":0.815},{"s":"495nm","t":10,"v":0.81},{"s":"495nm","t":13,"v":0.806},{"s":"495nm","t":20,"v":0.803},
{"s":"525nm","t":-0.5,"v":0.01},{"s":"525nm","t":-0.4,"v":0.03},{"s":"525nm","t":-0.3,"v":0.09},{"s":"525nm","t":-0.2,"v":0.18},{"s":"525nm","t":-0.1,"v":0.3},{"s":"525nm","t":0,"v":0.4},{"s":"525nm","t":0.1,"v":0.46},{"s":"525nm","t":0.2,"v":0.51},{"s":"525nm","t":0.3,"v":0.56},{"s":"525nm","t":0.4,"v":0.6},{"s":"525nm","t":0.6,"v":0.645},{"s":"525nm","t":0.8,"v":0.68},{"s":"525nm","t":1,"v":0.705},{"s":"525nm","t":1.2,"v":0.73},{"s":"525nm","t":1.5,"v":0.76},{"s":"525nm","t":2,"v":0.8},{"s":"525nm","t":2.5,"v":0.827},{"s":"525nm","t":3,"v":0.845},{"s":"525nm","t":3.5,"v":0.858},{"s":"525nm","t":4,"v":0.868},{"s":"525nm","t":5,"v":0.88},{"s":"525nm","t":6,"v":0.886},{"s":"525nm","t":8,"v":0.893},{"s":"525nm","t":10,"v":0.897},{"s":"525nm","t":14,"v":0.9},{"s":"525nm","t":20,"v":0.9},
{"s":"555nm","t":-0.5,"v":0.01},{"s":"555nm","t":-0.4,"v":0.03},{"s":"555nm","t":-0.3,"v":0.07},{"s":"555nm","t":-0.2,"v":0.13},{"s":"555nm","t":-0.1,"v":0.2},{"s":"555nm","t":0,"v":0.26},{"s":"555nm","t":0.1,"v":0.31},{"s":"555nm","t":0.2,"v":0.35},{"s":"555nm","t":0.4,"v":0.41},{"s":"555nm","t":0.6,"v":0.455},{"s":"555nm","t":0.8,"v":0.49},{"s":"555nm","t":1,"v":0.52},{"s":"555nm","t":1.2,"v":0.55},{"s":"555nm","t":1.5,"v":0.59},{"s":"555nm","t":2,"v":0.64},{"s":"555nm","t":2.5,"v":0.68},{"s":"555nm","t":3,"v":0.71},{"s":"555nm","t":3.5,"v":0.735},{"s":"555nm","t":4,"v":0.755},{"s":"555nm","t":5,"v":0.785},{"s":"555nm","t":6,"v":0.805},{"s":"555nm","t":7,"v":0.822},{"s":"555nm","t":8,"v":0.835},{"s":"555nm","t":9,"v":0.845},{"s":"555nm","t":10,"v":0.85},{"s":"555nm","t":12,"v":0.855},{"s":"555nm","t":15,"v":0.858},{"s":"555nm","t":20,"v":0.86}
],
"c":[
{"s":"445nm","t":-0.5,"v":0},{"s":"445nm","t":-0.4,"v":0.01},{"s":"445nm","t":-0.3,"v":0.04},{"s":"445nm","t":-0.2,"v":0.13},{"s":"445nm","t":-0.1,"v":0.37},{"s":"445nm","t":0,"v":0.7},{"s":"445nm","t":0.1,"v":0.92},{"s":"445nm","t":0.2,"v":1.0},{"s":"445nm","t":0.3,"v":0.94},{"s":"445nm","t":0.4,"v":0.91},{"s":"445nm","t":0.5,"v":0.82},{"s":"445nm","t":0.6,"v":0.8},{"s":"445nm","t":0.7,"v":0.73},{"s":"445nm","t":0.8,"v":0.71},{"s":"445nm","t":0.9,"v":0.65},{"s":"445nm","t":1,"v":0.64},{"s":"445nm","t":1.1,"v":0.59},{"s":"445nm","t":1.2,"v":0.58},{"s":"445nm","t":1.3,"v":0.53},{"s":"445nm","t":1.4,"v":0.54},{"s":"445nm","t":1.6,"v":0.47},{"s":"445nm","t":1.8,"v":0.47},{"s":"445nm","t":2,"v":0.42},{"s":"445nm","t":2.2,"v":0.43},{"s":"445nm","t":2.4,"v":0.38},{"s":"445nm","t":2.6,"v":0.39},{"s":"445nm","t":2.8,"v":0.35},{"s":"445nm","t":3,"v":0.36},{"s":"445nm","t":3.2,"v":0.32},{"s":"445nm","t":3.4,"v":0.35},{"s":"445nm","t":3.6,"v":0.31},{"s":"445nm","t":3.8,"v":0.32},{"s":"445nm","t":4,"v":0.29},{"s":"445nm","t":4.2,"v":0.31},{"s":"445nm","t":4.4,"v":0.27},{"s":"445nm","t":4.6,"v":0.29},{"s":"445nm","t":4.8,"v":0.26},{"s":"445nm","t":5,"v":0.27},{"s":"445nm","t":5.5,"v":0.3},{"s":"445nm","t":6,"v":0.25},{"s":"445nm","t":6.5,"v":0.26},{"s":"445nm","t":7,"v":0.24},{"s":"445nm","t":7.5,"v":0.25},{"s":"445nm","t":8,"v":0.245},{"s":"445nm","t":8.5,"v":0.21},{"s":"445nm","t":9,"v":0.235},{"s":"445nm","t":9.5,"v":0.215},{"s":"445nm","t":10,"v":0.23},{"s":"445nm","t":10.5,"v":0.21},{"s":"445nm","t":11,"v":0.22},{"s":"445nm","t":11.5,"v":0.2},{"s":"445nm","t":12,"v":0.215},{"s":"445nm","t":12.5,"v":0.235},{"s":"445nm","t":13,"v":0.21},{"s":"445nm","t":13.5,"v":0.2},{"s":"445nm","t":14,"v":0.215},{"s":"445nm","t":14.5,"v":0.205},{"s":"445nm","t":15,"v":0.19},{"s":"445nm","t":15.5,"v":0.2},{"s":"445nm","t":16,"v":0.22},{"s":"445nm","t":16.5,"v":0.2},{"s":"445nm","t":17,"v":0.2},{"s":"445nm","t":17.5,"v":0.205},{"s":"445nm","t":18,"v":0.2},{"s":"445nm","t":18.5,"v":0.175},{"s":"445nm","t":19,"v":0.22},{"s":"445nm","t":19.5,"v":0.19},{"s":"445nm","t":20,"v":0.2},
{"s":"475nm","t":-0.5,"v":0},{"s":"475nm","t":-0.4,"v":0.01},{"s":"475nm","t":-0.3,"v":0.06},{"s":"475nm","t":-0.2,"v":0.22},{"s":"475nm","t":-0.1,"v":0.52},{"s":"475nm","t":0,"v":0.84},{"s":"475nm","t":0.1,"v":0.98},{"s":"475nm","t":0.2,"v":1.0},{"s":"475nm","t":0.3,"v":0.96},{"s":"475nm","t":0.4,"v":0.98},{"s":"475nm","t":0.5,"v":0.93},{"s":"475nm","t":0.6,"v":0.95},{"s":"475nm","t":0.7,"v":0.9},{"s":"475nm","t":0.8,"v":0.93},{"s":"475nm","t":0.9,"v":0.87},{"s":"475nm","t":1,"v":0.89},{"s":"475nm","t":1.1,"v":0.84},{"s":"475nm","t":1.2,"v":0.86},{"s":"475nm","t":1.3,"v":0.81},{"s":"475nm","t":1.4,"v":0.84},{"s":"475nm","t":1.6,"v":0.79},{"s":"475nm","t":1.8,"v":0.8},{"s":"475nm","t":2,"v":0.76},{"s":"475nm","t":2.2,"v":0.78},{"s":"475nm","t":2.4,"v":0.73},{"s":"475nm","t":2.6,"v":0.75},{"s":"475nm","t":2.8,"v":0.7},{"s":"475nm","t":3,"v":0.72},{"s":"475nm","t":3.2,"v":0.68},{"s":"475nm","t":3.4,"v":0.69},{"s":"475nm","t":3.6,"v":0.65},{"s":"475nm","t":3.8,"v":0.67},{"s":"475nm","t":4,"v":0.62},{"s":"475nm","t":4.2,"v":0.65},{"s":"475nm","t":4.4,"v":0.6},{"s":"475nm","t":4.6,"v":0.63},{"s":"475nm","t":4.8,"v":0.59},{"s":"475nm","t":5,"v":0.6},{"s":"475nm","t":5.5,"v":0.58},{"s":"475nm","t":6,"v":0.59},{"s":"475nm","t":6.5,"v":0.57},{"s":"475nm","t":7,"v":0.5},{"s":"475nm","t":7.5,"v":0.55},{"s":"475nm","t":8,"v":0.565},{"s":"475nm","t":8.5,"v":0.545},{"s":"475nm","t":9,"v":0.55},{"s":"475nm","t":9.5,"v":0.52},{"s":"475nm","t":10,"v":0.562},{"s":"475nm","t":10.5,"v":0.54},{"s":"475nm","t":11,"v":0.53},{"s":"475nm","t":11.5,"v":0.545},{"s":"475nm","t":12,"v":0.535},{"s":"475nm","t":12.5,"v":0.54},{"s":"475nm","t":13,"v":0.53},{"s":"475nm","t":13.5,"v":0.535},{"s":"475nm","t":14,"v":0.5},{"s":"475nm","t":14.5,"v":0.54},{"s":"475nm","t":15,"v":0.525},{"s":"475nm","t":15.5,"v":0.47},{"s":"475nm","t":16,"v":0.52},{"s":"475nm","t":16.5,"v":0.525},{"s":"475nm","t":17,"v":0.535},{"s":"475nm","t":17.5,"v":0.5},{"s":"475nm","t":18,"v":0.51},{"s":"475nm","t":18.5,"v":0.46},{"s":"475nm","t":19,"v":0.49},{"s":"475nm","t":19.5,"v":0.47},{"s":"475nm","t":20,"v":0.48},
{"s":"505nm","t":-0.5,"v":0},{"s":"505nm","t":-0.4,"v":0.01},{"s":"505nm","t":-0.3,"v":0.03},{"s":"505nm","t":-0.2,"v":0.11},{"s":"505nm","t":-0.1,"v":0.32},{"s":"505nm","t":0,"v":0.6},{"s":"505nm","t":0.1,"v":0.78},{"s":"505nm","t":0.2,"v":0.86},{"s":"505nm","t":0.3,"v":0.86},{"s":"505nm","t":0.4,"v":0.92},{"s":"505nm","t":0.5,"v":0.88},{"s":"505nm","t":0.6,"v":0.95},{"s":"505nm","t":0.7,"v":0.89},{"s":"505nm","t":0.8,"v":0.97},{"s":"505nm","t":0.9,"v":0.9},{"s":"505nm","t":1,"v":0.96},{"s":"505nm","t":1.1,"v":0.91},{"s":"505nm","t":1.2,"v":1.0},{"s":"505nm","t":1.3,"v":0.9},{"s":"505nm","t":1.4,"v":0.95},{"s":"505nm","t":1.6,"v":0.9},{"s":"505nm","t":1.8,"v":0.94},{"s":"505nm","t":2,"v":0.9},{"s":"505nm","t":2.2,"v":0.93},{"s":"505nm","t":2.4,"v":0.89},{"s":"505nm","t":2.6,"v":0.92},{"s":"505nm","t":2.8,"v":0.88},{"s":"505nm","t":3,"v":0.9},{"s":"505nm","t":3.2,"v":0.87},{"s":"505nm","t":3.4,"v":0.9},{"s":"505nm","t":3.6,"v":0.86},{"s":"505nm","t":3.8,"v":0.88},{"s":"505nm","t":4,"v":0.85},{"s":"505nm","t":4.2,"v":0.87},{"s":"505nm","t":4.4,"v":0.84},{"s":"505nm","t":4.6,"v":0.86},{"s":"505nm","t":4.8,"v":0.82},{"s":"505nm","t":5,"v":0.84},{"s":"505nm","t":5.5,"v":0.81},{"s":"505nm","t":6,"v":0.77},{"s":"505nm","t":6.5,"v":0.82},{"s":"505nm","t":7,"v":0.76},{"s":"505nm","t":7.5,"v":0.8},{"s":"505nm","t":8,"v":0.78},{"s":"505nm","t":8.5,"v":0.76},{"s":"505nm","t":9,"v":0.79},{"s":"505nm","t":9.5,"v":0.76},{"s":"505nm","t":10,"v":0.77},{"s":"505nm","t":10.5,"v":0.72},{"s":"505nm","t":11,"v":0.77},{"s":"505nm","t":11.5,"v":0.78},{"s":"505nm","t":12,"v":0.76},{"s":"505nm","t":12.5,"v":0.745},{"s":"505nm","t":13,"v":0.76},{"s":"505nm","t":13.5,"v":0.75},{"s":"505nm","t":14,"v":0.755},{"s":"505nm","t":14.5,"v":0.73},{"s":"505nm","t":15,"v":0.71},{"s":"505nm","t":15.5,"v":0.78},{"s":"505nm","t":16,"v":0.76},{"s":"505nm","t":16.5,"v":0.79},{"s":"505nm","t":17,"v":0.755},{"s":"505nm","t":17.5,"v":0.78},{"s":"505nm","t":18,"v":0.76},{"s":"505nm","t":18.5,"v":0.8},{"s":"505nm","t":19,"v":0.73},{"s":"505nm","t":19.5,"v":0.745},{"s":"505nm","t":20,"v":0.73},
{"s":"535nm","t":-0.5,"v":0.01},{"s":"535nm","t":-0.4,"v":0.05},{"s":"535nm","t":-0.3,"v":0.12},{"s":"535nm","t":-0.2,"v":0.26},{"s":"535nm","t":-0.1,"v":0.42},{"s":"535nm","t":0,"v":0.54},{"s":"535nm","t":0.1,"v":0.62},{"s":"535nm","t":0.2,"v":0.66},{"s":"535nm","t":0.3,"v":0.72},{"s":"535nm","t":0.4,"v":0.73},{"s":"535nm","t":0.5,"v":0.78},{"s":"535nm","t":0.6,"v":0.76},{"s":"535nm","t":0.7,"v":0.8},{"s":"535nm","t":0.8,"v":0.79},{"s":"535nm","t":0.9,"v":0.83},{"s":"535nm","t":1,"v":0.81},{"s":"535nm","t":1.1,"v":0.85},{"s":"535nm","t":1.2,"v":0.83},{"s":"535nm","t":1.3,"v":0.87},{"s":"535nm","t":1.4,"v":0.85},{"s":"535nm","t":1.6,"v":0.88},{"s":"535nm","t":1.8,"v":0.87},{"s":"535nm","t":2,"v":0.9},{"s":"535nm","t":2.2,"v":0.88},{"s":"535nm","t":2.4,"v":0.92},{"s":"535nm","t":2.6,"v":0.89},{"s":"535nm","t":2.8,"v":0.93},{"s":"535nm","t":3,"v":0.9},{"s":"535nm","t":3.2,"v":0.94},{"s":"535nm","t":3.4,"v":0.9},{"s":"535nm","t":3.6,"v":0.98},{"s":"535nm","t":3.8,"v":0.9},{"s":"535nm","t":4,"v":0.95},{"s":"535nm","t":4.2,"v":0.91},{"s":"535nm","t":4.4,"v":0.97},{"s":"535nm","t":4.6,"v":0.91},{"s":"535nm","t":4.8,"v":0.94},{"s":"535nm","t":5,"v":0.99},{"s":"535nm","t":5.5,"v":0.92},{"s":"535nm","t":6,"v":0.94},{"s":"535nm","t":6.5,"v":0.97},{"s":"535nm","t":7,"v":1.0},{"s":"535nm","t":7.5,"v":0.95},{"s":"535nm","t":8,"v":0.92},{"s":"535nm","t":8.5,"v":0.93},{"s":"535nm","t":9,"v":0.97},{"s":"535nm","t":9.5,"v":0.93},{"s":"535nm","t":10,"v":0.92},{"s":"535nm","t":10.5,"v":0.93},{"s":"535nm","t":11,"v":0.92},{"s":"535nm","t":11.5,"v":0.93},{"s":"535nm","t":12,"v":0.96},{"s":"535nm","t":12.5,"v":0.92},{"s":"535nm","t":13,"v":0.98},{"s":"535nm","t":13.5,"v":0.92},{"s":"535nm","t":14,"v":0.94},{"s":"535nm","t":14.5,"v":0.93},{"s":"535nm","t":15,"v":0.86},{"s":"535nm","t":15.5,"v":0.87},{"s":"535nm","t":16,"v":0.93},{"s":"535nm","t":16.5,"v":0.93},{"s":"535nm","t":17,"v":0.97},{"s":"535nm","t":17.5,"v":0.97},{"s":"535nm","t":18,"v":0.95},{"s":"535nm","t":18.5,"v":0.82},{"s":"535nm","t":19,"v":0.93},{"s":"535nm","t":19.5,"v":0.92},{"s":"535nm","t":20,"v":0.95},
{"s":"565nm","t":-0.5,"v":0.02},{"s":"565nm","t":-0.4,"v":0.12},{"s":"565nm","t":-0.3,"v":0.26},{"s":"565nm","t":-0.2,"v":0.36},{"s":"565nm","t":-0.1,"v":0.42},{"s":"565nm","t":0,"v":0.49},{"s":"565nm","t":0.1,"v":0.5},{"s":"565nm","t":0.2,"v":0.57},{"s":"565nm","t":0.3,"v":0.56},{"s":"565nm","t":0.4,"v":0.63},{"s":"565nm","t":0.5,"v":0.6},{"s":"565nm","t":0.6,"v":0.66},{"s":"565nm","t":0.7,"v":0.63},{"s":"565nm","t":0.8,"v":0.69},{"s":"565nm","t":0.9,"v":0.66},{"s":"565nm","t":1,"v":0.72},{"s":"565nm","t":1.1,"v":0.68},{"s":"565nm","t":1.2,"v":0.74},{"s":"565nm","t":1.3,"v":0.7},{"s":"565nm","t":1.4,"v":0.76},{"s":"565nm","t":1.6,"v":0.72},{"s":"565nm","t":1.8,"v":0.79},{"s":"565nm","t":2,"v":0.75},{"s":"565nm","t":2.2,"v":0.81},{"s":"565nm","t":2.4,"v":0.77},{"s":"565nm","t":2.6,"v":0.83},{"s":"565nm","t":2.8,"v":0.78},{"s":"565nm","t":3,"v":0.85},{"s":"565nm","t":3.2,"v":0.79},{"s":"565nm","t":3.4,"v":0.86},{"s":"565nm","t":3.6,"v":0.8},{"s":"565nm","t":3.8,"v":0.87},{"s":"565nm","t":4,"v":0.81},{"s":"565nm","t":4.2,"v":0.88},{"s":"565nm","t":4.4,"v":0.82},{"s":"565nm","t":4.6,"v":0.9},{"s":"565nm","t":4.8,"v":0.83},{"s":"565nm","t":5,"v":0.88},{"s":"565nm","t":5.5,"v":0.84},{"s":"565nm","t":6,"v":0.9},{"s":"565nm","t":6.5,"v":0.87},{"s":"565nm","t":7,"v":0.96},{"s":"565nm","t":7.5,"v":0.92},{"s":"565nm","t":8,"v":0.94},{"s":"565nm","t":8.5,"v":0.81},{"s":"565nm","t":9,"v":0.92},{"s":"565nm","t":9.5,"v":0.91},{"s":"565nm","t":10,"v":0.82},{"s":"565nm","t":10.5,"v":0.82},{"s":"565nm","t":11,"v":0.86},{"s":"565nm","t":11.5,"v":0.9},{"s":"565nm","t":12,"v":1.0},{"s":"565nm","t":12.5,"v":0.91},{"s":"565nm","t":13,"v":0.85},{"s":"565nm","t":13.5,"v":0.96},{"s":"565nm","t":14,"v":0.83},{"s":"565nm","t":14.5,"v":0.95},{"s":"565nm","t":15,"v":0.94},{"s":"565nm","t":15.5,"v":0.87},{"s":"565nm","t":16,"v":0.96},{"s":"565nm","t":16.5,"v":0.9},{"s":"565nm","t":17,"v":0.95},{"s":"565nm","t":17.5,"v":0.93},{"s":"565nm","t":18,"v":0.92},{"s":"565nm","t":18.5,"v":0.84},{"s":"565nm","t":19,"v":0.94},{"s":"565nm","t":19.5,"v":0.8},{"s":"565nm","t":20,"v":0.88}
],
"cf":[
{"s":"445nm","t":-0.5,"v":0},{"s":"445nm","t":-0.3,"v":0.03},{"s":"445nm","t":-0.2,"v":0.12},{"s":"445nm","t":-0.1,"v":0.35},{"s":"445nm","t":0,"v":0.68},{"s":"445nm","t":0.1,"v":0.9},{"s":"445nm","t":0.2,"v":1.0},{"s":"445nm","t":0.3,"v":0.96},{"s":"445nm","t":0.4,"v":0.9},{"s":"445nm","t":0.5,"v":0.84},{"s":"445nm","t":0.6,"v":0.79},{"s":"445nm","t":0.8,"v":0.7},{"s":"445nm","t":1,"v":0.63},{"s":"445nm","t":1.2,"v":0.57},{"s":"445nm","t":1.5,"v":0.5},{"s":"445nm","t":2,"v":0.43},{"s":"445nm","t":2.5,"v":0.38},{"s":"445nm","t":3,"v":0.345},{"s":"445nm","t":3.5,"v":0.32},{"s":"445nm","t":4,"v":0.3},{"s":"445nm","t":5,"v":0.272},{"s":"445nm","t":6,"v":0.255},{"s":"445nm","t":7,"v":0.24},{"s":"445nm","t":8,"v":0.228},{"s":"445nm","t":9,"v":0.22},{"s":"445nm","t":10,"v":0.213},{"s":"445nm","t":12,"v":0.203},{"s":"445nm","t":14,"v":0.197},{"s":"445nm","t":17,"v":0.192},{"s":"445nm","t":20,"v":0.19},
{"s":"475nm","t":-0.5,"v":0},{"s":"475nm","t":-0.4,"v":0.01},{"s":"475nm","t":-0.3,"v":0.05},{"s":"475nm","t":-0.2,"v":0.2},{"s":"475nm","t":-0.1,"v":0.5},{"s":"475nm","t":0,"v":0.82},{"s":"475nm","t":0.1,"v":0.97},{"s":"475nm","t":0.2,"v":1.0},{"s":"475nm","t":0.3,"v":0.985},{"s":"475nm","t":0.4,"v":0.965},{"s":"475nm","t":0.6,"v":0.93},{"s":"475nm","t":0.8,"v":0.9},{"s":"475nm","t":1,"v":0.87},{"s":"475nm","t":1.5,"v":0.81},{"s":"475nm","t":2,"v":0.77},{"s":"475nm","t":2.5,"v":0.735},{"s":"475nm","t":3,"v":0.705},{"s":"475nm","t":3.5,"v":0.67},{"s":"475nm","t":4,"v":0.645},{"s":"475nm","t":5,"v":0.605},{"s":"475nm","t":6,"v":0.58},{"s":"475nm","t":7,"v":0.56},{"s":"475nm","t":8,"v":0.545},{"s":"475nm","t":9,"v":0.532},{"s":"475nm","t":10,"v":0.52},{"s":"475nm","t":12,"v":0.503},{"s":"475nm","t":14,"v":0.492},{"s":"475nm","t":17,"v":0.482},{"s":"475nm","t":20,"v":0.477},
{"s":"505nm","t":-0.5,"v":0},{"s":"505nm","t":-0.3,"v":0.02},{"s":"505nm","t":-0.2,"v":0.1},{"s":"505nm","t":-0.1,"v":0.3},{"s":"505nm","t":0,"v":0.58},{"s":"505nm","t":0.1,"v":0.76},{"s":"505nm","t":0.2,"v":0.84},{"s":"505nm","t":0.3,"v":0.87},{"s":"505nm","t":0.4,"v":0.885},{"s":"505nm","t":0.6,"v":0.905},{"s":"505nm","t":0.8,"v":0.915},{"s":"505nm","t":1,"v":0.92},{"s":"505nm","t":1.5,"v":0.925},{"s":"505nm","t":2,"v":0.92},{"s":"505nm","t":2.5,"v":0.905},{"s":"505nm","t":3,"v":0.89},{"s":"505nm","t":3.5,"v":0.875},{"s":"505nm","t":4,"v":0.86},{"s":"505nm","t":5,"v":0.83},{"s":"505nm","t":6,"v":0.8},{"s":"505nm","t":7,"v":0.78},{"s":"505nm","t":8,"v":0.765},{"s":"505nm","t":9,"v":0.755},{"s":"505nm","t":10,"v":0.748},{"s":"505nm","t":12,"v":0.74},{"s":"505nm","t":15,"v":0.733},{"s":"505nm","t":20,"v":0.728},
{"s":"535nm","t":-0.5,"v":0.01},{"s":"535nm","t":-0.4,"v":0.04},{"s":"535nm","t":-0.3,"v":0.11},{"s":"535nm","t":-0.2,"v":0.24},{"s":"535nm","t":-0.1,"v":0.4},{"s":"535nm","t":0,"v":0.52},{"s":"535nm","t":0.1,"v":0.6},{"s":"535nm","t":0.2,"v":0.65},{"s":"535nm","t":0.3,"v":0.69},{"s":"535nm","t":0.4,"v":0.72},{"s":"535nm","t":0.6,"v":0.76},{"s":"535nm","t":0.8,"v":0.785},{"s":"535nm","t":1,"v":0.805},{"s":"535nm","t":1.5,"v":0.845},{"s":"535nm","t":2,"v":0.875},{"s":"535nm","t":2.5,"v":0.895},{"s":"535nm","t":3,"v":0.905},{"s":"535nm","t":4,"v":0.912},{"s":"535nm","t":5,"v":0.913},{"s":"535nm","t":10,"v":0.912},{"s":"535nm","t":20,"v":0.912},
{"s":"565nm","t":-0.5,"v":0.02},{"s":"565nm","t":-0.4,"v":0.1},{"s":"565nm","t":-0.3,"v":0.24},{"s":"565nm","t":-0.2,"v":0.34},{"s":"565nm","t":-0.1,"v":0.41},{"s":"565nm","t":0,"v":0.46},{"s":"565nm","t":0.1,"v":0.51},{"s":"565nm","t":0.2,"v":0.545},{"s":"565nm","t":0.4,"v":0.6},{"s":"565nm","t":0.6,"v":0.63},{"s":"565nm","t":0.8,"v":0.66},{"s":"565nm","t":1,"v":0.69},{"s":"565nm","t":1.5,"v":0.735},{"s":"565nm","t":2,"v":0.765},{"s":"565nm","t":2.5,"v":0.785},{"s":"565nm","t":3,"v":0.803},{"s":"565nm","t":3.5,"v":0.817},{"s":"565nm","t":4,"v":0.828},{"s":"565nm","t":5,"v":0.845},{"s":"565nm","t":6,"v":0.857},{"s":"565nm","t":7,"v":0.866},{"s":"565nm","t":8,"v":0.873},{"s":"565nm","t":10,"v":0.882},{"s":"565nm","t":13,"v":0.89},{"s":"565nm","t":16,"v":0.893},{"s":"565nm","t":20,"v":0.895}
]
},
"vconcat":[
{
"width":551,"height":235,
"layer":[
{"data":{"name":"a"},"transform":[{"filter":{"field":"s","oneOf":["445nm","475nm"]}}],"mark":{"type":"line","strokeWidth":2.4,"strokeJoin":"round"},"encoding":{
"x":{"field":"t","type":"quantitative","scale":{"domain":[-1,20],"nice":false,"zero":false},"axis":{"title":null,"labels":false,"values":[-1,0,1,2,3,4,5,6,7,8,9,10,11,12,13,14,15,16,17,18,19,20],"tickSize":{"condition":{"test":"datum.value % 2 != 0","value":6},"value":11}}},
"y":{"field":"v","type":"quantitative","scale":{"domain":[0,1.1],"nice":false,"zero":false},"axis":{"title":"Intensity","values":[0,0.25,0.5,0.75,1],"labelExpr":"(datum.value == 0.25 || datum.value == 0.75) ? '' : format(datum.value, '.1f')","tickSize":{"condition":{"test":"datum.value == 0.25 || datum.value == 0.75","value":5},"value":12}}},
"stroke":{"field":"s","type":"nominal","scale":{"domain":["445nm","475nm"],"range":["#2CE6F4","#1426D4"]},"legend":{"orient":"none","legendX":177,"legendY":143,"direction":"horizontal","columns":2,"title":null}}}},
{"data":{"name":"af"},"transform":[{"filter":{"field":"s","oneOf":["445nm","475nm"]}}],"mark":{"type":"line","strokeWidth":2.6,"interpolate":"monotone"},"encoding":{
"x":{"field":"t","type":"quantitative","scale":{"domain":[-1,20],"nice":false,"zero":false},"axis":{"title":null,"labels":false,"values":[-1,0,1,2,3,4,5,6,7,8,9,10,11,12,13,14,15,16,17,18,19,20],"tickSize":{"condition":{"test":"datum.value % 2 != 0","value":6},"value":11}}},
"y":{"field":"v","type":"quantitative","scale":{"domain":[0,1.1],"nice":false,"zero":false},"axis":{"title":"Intensity","values":[0,0.25,0.5,0.75,1],"labelExpr":"(datum.value == 0.25 || datum.value == 0.75) ? '' : format(datum.value, '.1f')","tickSize":{"condition":{"test":"datum.value == 0.25 || datum.value == 0.75","value":5},"value":12}}},
"stroke":{"field":"s","type":"nominal"}}},
{"data":{"name":"a"},"transform":[{"filter":{"field":"s","oneOf":["505nm","535nm","565nm"]}}],"mark":{"type":"line","strokeWidth":2.4,"strokeJoin":"round"},"encoding":{
"x":{"field":"t","type":"quantitative","scale":{"domain":[-1,20],"nice":false,"zero":false},"axis":{"title":null,"labels":false,"values":[-1,0,1,2,3,4,5,6,7,8,9,10,11,12,13,14,15,16,17,18,19,20],"tickSize":{"condition":{"test":"datum.value % 2 != 0","value":6},"value":11}}},
"y":{"field":"v","type":"quantitative","scale":{"domain":[0,1.1],"nice":false,"zero":false},"axis":{"title":"Intensity","values":[0,0.25,0.5,0.75,1],"labelExpr":"(datum.value == 0.25 || datum.value == 0.75) ? '' : format(datum.value, '.1f')","tickSize":{"condition":{"test":"datum.value == 0.25 || datum.value == 0.75","value":5},"value":12}}},
"color":{"field":"s","type":"nominal","scale":{"domain":["505nm","535nm","565nm"],"range":["#22DD22","#FF8A1F","#F21B1B"]},"legend":{"orient":"none","legendX":177,"legendY":167,"direction":"horizontal","columns":3,"title":null}}}},
{"data":{"name":"af"},"transform":[{"filter":{"field":"s","oneOf":["505nm","535nm","565nm"]}}],"mark":{"type":"line","strokeWidth":2.6,"interpolate":"monotone"},"encoding":{
"x":{"field":"t","type":"quantitative","scale":{"domain":[-1,20],"nice":false,"zero":false},"axis":{"title":null,"labels":false,"values":[-1,0,1,2,3,4,5,6,7,8,9,10,11,12,13,14,15,16,17,18,19,20],"tickSize":{"condition":{"test":"datum.value % 2 != 0","value":6},"value":11}}},
"y":{"field":"v","type":"quantitative","scale":{"domain":[0,1.1],"nice":false,"zero":false},"axis":{"title":"Intensity","values":[0,0.25,0.5,0.75,1],"labelExpr":"(datum.value == 0.25 || datum.value == 0.75) ? '' : format(datum.value, '.1f')","tickSize":{"condition":{"test":"datum.value == 0.25 || datum.value == 0.75","value":5},"value":12}}},
"color":{"field":"s","type":"nominal"}}},
{"data":{"values":[{"label":"2L"}]},"mark":{"type":"text","align":"left","baseline":"middle","fontSize":26,"fontWeight":"bold","color":"black"},"encoding":{
"x":{"datum":13.63,"type":"quantitative","scale":{"domain":[-1,20],"nice":false,"zero":false},"axis":{"title":null,"labels":false,"values":[-1,0,1,2,3,4,5,6,7,8,9,10,11,12,13,14,15,16,17,18,19,20],"tickSize":{"condition":{"test":"datum.value % 2 != 0","value":6},"value":11}}},
"y":{"datum":0.55,"type":"quantitative","scale":{"domain":[0,1.1],"nice":false,"zero":false},"axis":{"title":"Intensity","values":[0,0.25,0.5,0.75,1],"labelExpr":"(datum.value == 0.25 || datum.value == 0.75) ? '' : format(datum.value, '.1f')","tickSize":{"condition":{"test":"datum.value == 0.25 || datum.value == 0.75","value":5},"value":12}}},
"text":{"field":"label","type":"nominal"}}},
{"data":{"values":[{"label":"/THF"}]},"mark":{"type":"text","align":"left","baseline":"middle","fontSize":26,"color":"black"},"encoding":{
"x":{"datum":14.8,"type":"quantitative","scale":{"domain":[-1,20],"nice":false,"zero":false},"axis":{"title":null,"labels":false,"values":[-1,0,1,2,3,4,5,6,7,8,9,10,11,12,13,14,15,16,17,18,19,20],"tickSize":{"condition":{"test":"datum.value % 2 != 0","value":6},"value":11}}},
"y":{"datum":0.55,"type":"quantitative","scale":{"domain":[0,1.1],"nice":false,"zero":false},"axis":{"title":"Intensity","values":[0,0.25,0.5,0.75,1],"labelExpr":"(datum.value == 0.25 || datum.value == 0.75) ? '' : format(datum.value, '.1f')","tickSize":{"condition":{"test":"datum.value == 0.25 || datum.value == 0.75","value":5},"value":12}}},
"text":{"field":"label","type":"nominal"}}},
{"data":{"values":[{"label":"(a)"}]},"mark":{"type":"text","align":"left","baseline":"middle","fontSize":26,"color":"black"},"encoding":{
"x":{"datum":18.2,"type":"quantitative","scale":{"domain":[-1,20],"nice":false,"zero":false},"axis":{"title":null,"labels":false,"values":[-1,0,1,2,3,4,5,6,7,8,9,10,11,12,13,14,15,16,17,18,19,20],"tickSize":{"condition":{"test":"datum.value % 2 != 0","value":6},"value":11}}},
"y":{"datum":0.55,"type":"quantitative","scale":{"domain":[0,1.1],"nice":false,"zero":false},"axis":{"title":"Intensity","values":[0,0.25,0.5,0.75,1],"labelExpr":"(datum.value == 0.25 || datum.value == 0.75) ? '' : format(datum.value, '.1f')","tickSize":{"condition":{"test":"datum.value == 0.25 || datum.value == 0.75","value":5},"value":12}}},
"text":{"field":"label","type":"nominal"}}}
]
},
{
"width":551,"height":237,
"layer":[
{"data":{"name":"b"},"transform":[{"filter":{"field":"s","oneOf":["435nm","465nm"]}}],"mark":{"type":"line","strokeWidth":2.4,"strokeJoin":"round"},"encoding":{
"x":{"field":"t","type":"quantitative","scale":{"domain":[-1,20],"nice":false,"zero":false},"axis":{"title":null,"labels":false,"values":[-1,0,1,2,3,4,5,6,7,8,9,10,11,12,13,14,15,16,17,18,19,20],"tickSize":{"condition":{"test":"datum.value % 2 != 0","value":6},"value":11}}},
"y":{"field":"v","type":"quantitative","scale":{"domain":[0,1.1],"nice":false,"zero":false},"axis":{"title":"Intensity","values":[0,0.25,0.5,0.75,1],"labelExpr":"(datum.value == 0.25 || datum.value == 0.75) ? '' : format(datum.value, '.1f')","tickSize":{"condition":{"test":"datum.value == 0.25 || datum.value == 0.75","value":5},"value":12}}},
"stroke":{"field":"s","type":"nominal","scale":{"domain":["435nm","465nm"],"range":["#2CE6F4","#1426D4"]},"legend":{"orient":"none","legendX":186,"legendY":151,"direction":"horizontal","columns":2,"title":null}}}},
{"data":{"name":"bf"},"transform":[{"filter":{"field":"s","oneOf":["435nm","465nm"]}}],"mark":{"type":"line","strokeWidth":2.6,"interpolate":"monotone"},"encoding":{
"x":{"field":"t","type":"quantitative","scale":{"domain":[-1,20],"nice":false,"zero":false},"axis":{"title":null,"labels":false,"values":[-1,0,1,2,3,4,5,6,7,8,9,10,11,12,13,14,15,16,17,18,19,20],"tickSize":{"condition":{"test":"datum.value % 2 != 0","value":6},"value":11}}},
"y":{"field":"v","type":"quantitative","scale":{"domain":[0,1.1],"nice":false,"zero":false},"axis":{"title":"Intensity","values":[0,0.25,0.5,0.75,1],"labelExpr":"(datum.value == 0.25 || datum.value == 0.75) ? '' : format(datum.value, '.1f')","tickSize":{"condition":{"test":"datum.value == 0.25 || datum.value == 0.75","value":5},"value":12}}},
"stroke":{"field":"s","type":"nominal"}}},
{"data":{"name":"b"},"transform":[{"filter":{"field":"s","oneOf":["495nm","525nm","555nm"]}}],"mark":{"type":"line","strokeWidth":2.4,"strokeJoin":"round"},"encoding":{
"x":{"field":"t","type":"quantitative","scale":{"domain":[-1,20],"nice":false,"zero":false},"axis":{"title":null,"labels":false,"values":[-1,0,1,2,3,4,5,6,7,8,9,10,11,12,13,14,15,16,17,18,19,20],"tickSize":{"condition":{"test":"datum.value % 2 != 0","value":6},"value":11}}},
"y":{"field":"v","type":"quantitative","scale":{"domain":[0,1.1],"nice":false,"zero":false},"axis":{"title":"Intensity","values":[0,0.25,0.5,0.75,1],"labelExpr":"(datum.value == 0.25 || datum.value == 0.75) ? '' : format(datum.value, '.1f')","tickSize":{"condition":{"test":"datum.value == 0.25 || datum.value == 0.75","value":5},"value":12}}},
"color":{"field":"s","type":"nominal","scale":{"domain":["495nm","525nm","555nm"],"range":["#22DD22","#FF8A1F","#F21B1B"]},"legend":{"orient":"none","legendX":186,"legendY":176,"direction":"horizontal","columns":3,"title":null}}}},
{"data":{"name":"bf"},"transform":[{"filter":{"field":"s","oneOf":["495nm","525nm","555nm"]}}],"mark":{"type":"line","strokeWidth":2.6,"interpolate":"monotone"},"encoding":{
"x":{"field":"t","type":"quantitative","scale":{"domain":[-1,20],"nice":false,"zero":false},"axis":{"title":null,"labels":false,"values":[-1,0,1,2,3,4,5,6,7,8,9,10,11,12,13,14,15,16,17,18,19,20],"tickSize":{"condition":{"test":"datum.value % 2 != 0","value":6},"value":11}}},
"y":{"field":"v","type":"quantitative","scale":{"domain":[0,1.1],"nice":false,"zero":false},"axis":{"title":"Intensity","values":[0,0.25,0.5,0.75,1],"labelExpr":"(datum.value == 0.25 || datum.value == 0.75) ? '' : format(datum.value, '.1f')","tickSize":{"condition":{"test":"datum.value == 0.25 || datum.value == 0.75","value":5},"value":12}}},
"color":{"field":"s","type":"nominal"}}},
{"data":{"values":[{"label":"2Q"}]},"mark":{"type":"text","align":"left","baseline":"middle","fontSize":26,"fontWeight":"bold","color":"black"},"encoding":{
"x":{"datum":13.94,"type":"quantitative","scale":{"domain":[-1,20],"nice":false,"zero":false},"axis":{"title":null,"labels":false,"values":[-1,0,1,2,3,4,5,6,7,8,9,10,11,12,13,14,15,16,17,18,19,20],"tickSize":{"condition":{"test":"datum.value % 2 != 0","value":6},"value":11}}},
"y":{"datum":0.534,"type":"quantitative","scale":{"domain":[0,1.1],"nice":false,"zero":false},"axis":{"title":"Intensity","values":[0,0.25,0.5,0.75,1],"labelExpr":"(datum.value == 0.25 || datum.value == 0.75) ? '' : format(datum.value, '.1f')","tickSize":{"condition":{"test":"datum.value == 0.25 || datum.value == 0.75","value":5},"value":12}}},
"text":{"field":"label","type":"nominal"}}},
{"data":{"values":[{"label":"/THF"}]},"mark":{"type":"text","align":"left","baseline":"middle","fontSize":26,"color":"black"},"encoding":{
"x":{"datum":15.28,"type":"quantitative","scale":{"domain":[-1,20],"nice":false,"zero":false},"axis":{"title":null,"labels":false,"values":[-1,0,1,2,3,4,5,6,7,8,9,10,11,12,13,14,15,16,17,18,19,20],"tickSize":{"condition":{"test":"datum.value % 2 != 0","value":6},"value":11}}},
"y":{"datum":0.534,"type":"quantitative","scale":{"domain":[0,1.1],"nice":false,"zero":false},"axis":{"title":"Intensity","values":[0,0.25,0.5,0.75,1],"labelExpr":"(datum.value == 0.25 || datum.value == 0.75) ? '' : format(datum.value, '.1f')","tickSize":{"condition":{"test":"datum.value == 0.25 || datum.value == 0.75","value":5},"value":12}}},
"text":{"field":"label","type":"nominal"}}},
{"data":{"values":[{"label":"(b)"}]},"mark":{"type":"text","align":"left","baseline":"middle","fontSize":26,"color":"black"},"encoding":{
"x":{"datum":18.33,"type":"quantitative","scale":{"domain":[-1,20],"nice":false,"zero":false},"axis":{"title":null,"labels":false,"values":[-1,0,1,2,3,4,5,6,7,8,9,10,11,12,13,14,15,16,17,18,19,20],"tickSize":{"condition":{"test":"datum.value % 2 != 0","value":6},"value":11}}},
"y":{"datum":0.534,"type":"quantitative","scale":{"domain":[0,1.1],"nice":false,"zero":false},"axis":{"title":"Intensity","values":[0,0.25,0.5,0.75,1],"labelExpr":"(datum.value == 0.25 || datum.value == 0.75) ? '' : format(datum.value, '.1f')","tickSize":{"condition":{"test":"datum.value == 0.25 || datum.value == 0.75","value":5},"value":12}}},
"text":{"field":"label","type":"nominal"}}}
]
},
{
"width":551,"height":238,
"layer":[
{"data":{"name":"c"},"transform":[{"filter":{"field":"s","oneOf":["445nm","475nm"]}}],"mark":{"type":"line","strokeWidth":2.4,"strokeJoin":"round"},"encoding":{
"x":{"field":"t","type":"quantitative","scale":{"domain":[-1,20],"nice":false,"zero":false},"axis":{"title":"Time (ps)","values":[-1,0,1,2,3,4,5,6,7,8,9,10,11,12,13,14,15,16,17,18,19,20],"labelExpr":"datum.value % 2 != 0 ? '' : format(datum.value, 'd')","tickSize":{"condition":{"test":"datum.value % 2 != 0","value":6},"value":11}}},
"y":{"field":"v","type":"quantitative","scale":{"domain":[0,1.1],"nice":false,"zero":false},"axis":{"title":"Intensity","values":[0,0.25,0.5,0.75,1],"labelExpr":"(datum.value == 0.25 || datum.value == 0.75) ? '' : format(datum.value, '.1f')","tickSize":{"condition":{"test":"datum.value == 0.25 || datum.value == 0.75","value":5},"value":12}}},
"stroke":{"field":"s","type":"nominal","scale":{"domain":["445nm","475nm"],"range":["#2CE6F4","#1426D4"]},"legend":{"orient":"none","legendX":201,"legendY":124,"direction":"horizontal","columns":2,"title":null}}}},
{"data":{"name":"cf"},"transform":[{"filter":{"field":"s","oneOf":["445nm","475nm"]}}],"mark":{"type":"line","strokeWidth":2.6,"interpolate":"monotone"},"encoding":{
"x":{"field":"t","type":"quantitative","scale":{"domain":[-1,20],"nice":false,"zero":false},"axis":{"title":"Time (ps)","values":[-1,0,1,2,3,4,5,6,7,8,9,10,11,12,13,14,15,16,17,18,19,20],"labelExpr":"datum.value % 2 != 0 ? '' : format(datum.value, 'd')","tickSize":{"condition":{"test":"datum.value % 2 != 0","value":6},"value":11}}},
"y":{"field":"v","type":"quantitative","scale":{"domain":[0,1.1],"nice":false,"zero":false},"axis":{"title":"Intensity","values":[0,0.25,0.5,0.75,1],"labelExpr":"(datum.value == 0.25 || datum.value == 0.75) ? '' : format(datum.value, '.1f')","tickSize":{"condition":{"test":"datum.value == 0.25 || datum.value == 0.75","value":5},"value":12}}},
"stroke":{"field":"s","type":"nominal"}}},
{"data":{"name":"c"},"transform":[{"filter":{"field":"s","oneOf":["505nm","535nm","565nm"]}}],"mark":{"type":"line","strokeWidth":2.4,"strokeJoin":"round"},"encoding":{
"x":{"field":"t","type":"quantitative","scale":{"domain":[-1,20],"nice":false,"zero":false},"axis":{"title":"Time (ps)","values":[-1,0,1,2,3,4,5,6,7,8,9,10,11,12,13,14,15,16,17,18,19,20],"labelExpr":"datum.value % 2 != 0 ? '' : format(datum.value, 'd')","tickSize":{"condition":{"test":"datum.value % 2 != 0","value":6},"value":11}}},
"y":{"field":"v","type":"quantitative","scale":{"domain":[0,1.1],"nice":false,"zero":false},"axis":{"title":"Intensity","values":[0,0.25,0.5,0.75,1],"labelExpr":"(datum.value == 0.25 || datum.value == 0.75) ? '' : format(datum.value, '.1f')","tickSize":{"condition":{"test":"datum.value == 0.25 || datum.value == 0.75","value":5},"value":12}}},
"color":{"field":"s","type":"nominal","scale":{"domain":["505nm","535nm","565nm"],"range":["#22DD22","#FF8A1F","#F21B1B"]},"legend":{"orient":"none","legendX":201,"legendY":151,"direction":"horizontal","columns":3,"title":null}}}},
{"data":{"name":"cf"},"transform":[{"filter":{"field":"s","oneOf":["505nm","535nm","565nm"]}}],"mark":{"type":"line","strokeWidth":2.6,"interpolate":"monotone"},"encoding":{
"x":{"field":"t","type":"quantitative","scale":{"domain":[-1,20],"nice":false,"zero":false},"axis":{"title":"Time (ps)","values":[-1,0,1,2,3,4,5,6,7,8,9,10,11,12,13,14,15,16,17,18,19,20],"labelExpr":"datum.value % 2 != 0 ? '' : format(datum.value, 'd')","tickSize":{"condition":{"test":"datum.value % 2 != 0","value":6},"value":11}}},
"y":{"field":"v","type":"quantitative","scale":{"domain":[0,1.1],"nice":false,"zero":false},"axis":{"title":"Intensity","values":[0,0.25,0.5,0.75,1],"labelExpr":"(datum.value == 0.25 || datum.value == 0.75) ? '' : format(datum.value, '.1f')","tickSize":{"condition":{"test":"datum.value == 0.25 || datum.value == 0.75","value":5},"value":12}}},
"color":{"field":"s","type":"nominal"}}},
{"data":{"values":[{"label":"2T"}]},"mark":{"type":"text","align":"left","baseline":"middle","fontSize":26,"fontWeight":"bold","color":"black"},"encoding":{
"x":{"datum":14.2,"type":"quantitative","scale":{"domain":[-1,20],"nice":false,"zero":false},"axis":{"title":"Time (ps)","values":[-1,0,1,2,3,4,5,6,7,8,9,10,11,12,13,14,15,16,17,18,19,20],"labelExpr":"datum.value % 2 != 0 ? '' : format(datum.value, 'd')","tickSize":{"condition":{"test":"datum.value % 2 != 0","value":6},"value":11}}},
"y":{"datum":0.61,"type":"quantitative","scale":{"domain":[0,1.1],"nice":false,"zero":false},"axis":{"title":"Intensity","values":[0,0.25,0.5,0.75,1],"labelExpr":"(datum.value == 0.25 || datum.value == 0.75) ? '' : format(datum.value, '.1f')","tickSize":{"condition":{"test":"datum.value == 0.25 || datum.value == 0.75","value":5},"value":12}}},
"text":{"field":"label","type":"nominal"}}},
{"data":{"values":[{"label":"/THF"}]},"mark":{"type":"text","align":"left","baseline":"middle","fontSize":26,"color":"black"},"encoding":{
"x":{"datum":15.38,"type":"quantitative","scale":{"domain":[-1,20],"nice":false,"zero":false},"axis":{"title":"Time (ps)","values":[-1,0,1,2,3,4,5,6,7,8,9,10,11,12,13,14,15,16,17,18,19,20],"labelExpr":"datum.value % 2 != 0 ? '' : format(datum.value, 'd')","tickSize":{"condition":{"test":"datum.value % 2 != 0","value":6},"value":11}}},
"y":{"datum":0.61,"type":"quantitative","scale":{"domain":[0,1.1],"nice":false,"zero":false},"axis":{"title":"Intensity","values":[0,0.25,0.5,0.75,1],"labelExpr":"(datum.value == 0.25 || datum.value == 0.75) ? '' : format(datum.value, '.1f')","tickSize":{"condition":{"test":"datum.value == 0.25 || datum.value == 0.75","value":5},"value":12}}},
"text":{"field":"label","type":"nominal"}}},
{"data":{"values":[{"label":"(c)"}]},"mark":{"type":"text","align":"left","baseline":"middle","fontSize":26,"color":"black"},"encoding":{
"x":{"datum":18.3,"type":"quantitative","scale":{"domain":[-1,20],"nice":false,"zero":false},"axis":{"title":"Time (ps)","values":[-1,0,1,2,3,4,5,6,7,8,9,10,11,12,13,14,15,16,17,18,19,20],"labelExpr":"datum.value % 2 != 0 ? '' : format(datum.value, 'd')","tickSize":{"condition":{"test":"datum.value % 2 != 0","value":6},"value":11}}},
"y":{"datum":0.61,"type":"quantitative","scale":{"domain":[0,1.1],"nice":false,"zero":false},"axis":{"title":"Intensity","values":[0,0.25,0.5,0.75,1],"labelExpr":"(datum.value == 0.25 || datum.value == 0.75) ? '' : format(datum.value, '.1f')","tickSize":{"condition":{"test":"datum.value == 0.25 || datum.value == 0.75","value":5},"value":12}}},
"text":{"field":"label","type":"nominal"}}}
]
}
],
"resolve":{"scale":{"color":"independent","stroke":"independent"}},
"config":{
"font":"Liberation Sans",
"view":{"stroke":"black","strokeWidth":2},
"text":{"font":"Liberation Sans"},
"axis":{"domainColor":"black","domainWidth":2,"tickColor":"black","tickWidth":2,"tickSize":11,"labelFont":"Liberation Sans","labelFontSize":21,"labelColor":"black","titleFont":"Liberation Sans","titleFontSize":26,"titleFontWeight":"normal","titleColor":"black","grid":false,"labelFlush":false,"labelOverlap":false},
"axisY":{"labelPadding":7,"titlePadding":14},
"axisX":{"labelPadding":8,"titlePadding":16},
"legend":{"symbolType":"stroke","symbolSize":2304,"symbolStrokeWidth":3,"labelFont":"Liberation Sans","labelFontSize":19,"labelColor":"black","labelOffset":3,"columnPadding":-2,"rowPadding":0,"padding":0,"labelLimit":200}
}
}
